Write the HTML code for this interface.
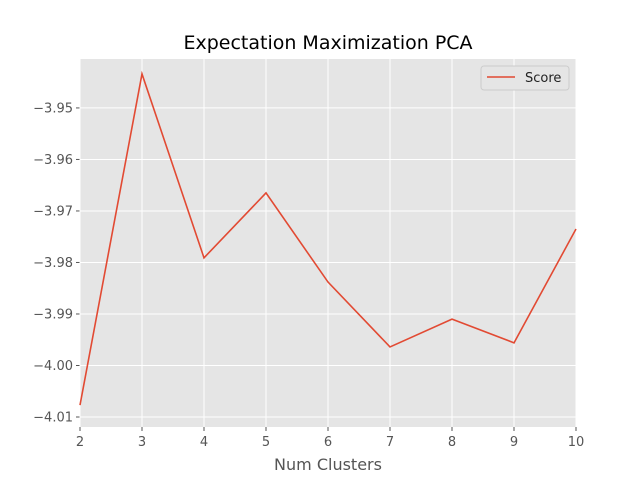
<!DOCTYPE html>
<html><head><meta charset="utf-8"><style>body{margin:0;background:#fff}svg{font-family:"DejaVu Sans","Liberation Sans",sans-serif}</style></head>
<body>
<svg id="chart" width="640" height="480"></svg>
<script>
const categories=[2,3,4,5,6,7,8,9,10];
const scores=[-4.0077,-3.9434,-3.9791,-3.9665,-3.9838,-3.9964,-3.9910,-3.9956,-3.9735];
const yTicks=[-3.95,-3.96,-3.97,-3.98,-3.99,-4.00,-4.01];
const yTickLabels=["\u22123.95","\u22123.96","\u22123.97","\u22123.98","\u22123.99","\u22124.00","\u22124.01"];
const xTicks=[2,3,4,5,6,7,8,9,10];
const L=80,R=576,T=59,B=427,xMin=2,xMax=10,yMin=-4.01194,yMax=-3.9405;
const xs=v=>L+(v-xMin)/(xMax-xMin)*(R-L);
const ys=v=>B-(v-yMin)/(yMax-yMin)*(B-T);
const svg=document.getElementById('chart');const NS='http://www.w3.org/2000/svg';
function mk(t,a,p){const e=document.createElementNS(NS,t);for(const k in a)e.setAttribute(k,a[k]);(p||svg).appendChild(e);return e;}
const bg=mk('rect',{x:L,y:T,width:R-L,height:B-T,fill:'#e5e5e5'});


yTicks.forEach((v,i)=>{const y=ys(v);
const g=mk('line',{x1:L,x2:R,y1:y,y2:y,stroke:'#fff','stroke-width':1});


mk('line',{x1:L-4,x2:L,y1:y,y2:y,stroke:'#555'});
const t=mk('text',{x:L-7,y:y+4.5,'text-anchor':'end','font-size':13,fill:'#555'});t.textContent=yTickLabels[i];

});
xTicks.forEach(v=>{const x=xs(v);
const g=mk('line',{x1:x,x2:x,y1:T,y2:B,stroke:'#fff','stroke-width':1});


mk('line',{x1:x,x2:x,y1:B,y2:B+4,stroke:'#555'});
const t=mk('text',{x:x,y:B+19,'text-anchor':'middle','font-size':13,fill:'#555'});t.textContent=v;

});
const line=mk('polyline',{points:categories.map((c,i)=>xs(c)+','+ys(scores[i])).join(' '),fill:'none',stroke:'#e24a33','stroke-width':1.6});


const ti=mk('text',{x:328,y:49,'text-anchor':'middle','font-size':19,fill:'#000'});ti.textContent='Expectation Maximization PCA';


const xl=mk('text',{x:328,y:470,'text-anchor':'middle','font-size':16,fill:'#555'});xl.textContent='Num Clusters';


const lg=mk('g',{});


mk('rect',{x:481,y:66,width:88,height:24,rx:3,fill:'#e5e5e5',stroke:'#ccc'},lg);
mk('line',{x1:487,x2:515,y1:77,y2:77,stroke:'#e24a33','stroke-width':1.6},lg);
const lt=mk('text',{x:525,y:82,'font-size':13,fill:'#222'},lg);lt.textContent='Score';


</script>
</body></html>
